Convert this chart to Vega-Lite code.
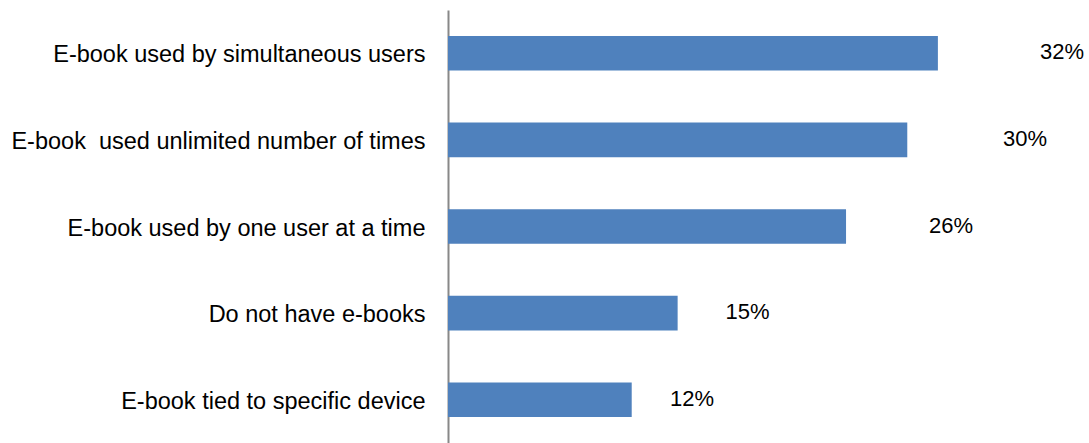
{
  "$schema": "https://vega.github.io/schema/vega-lite/v6.json",
  "autosize": {"type": "none"},
  "padding": {"left": 448, "top": 10, "right": 0, "bottom": 0},
  "width": 641,
  "height": 433,
  "background": "white",
  "config": {"view": {"stroke": null}, "font": "Liberation Sans"},
  "data": {"values": [
    {"category": "E-book used by simultaneous users", "value": 32, "label": "32%"},
    {"category": "E-book\u00a0 used unlimited number of times", "value": 30, "label": "30%"},
    {"category": "E-book used by one user at a time", "value": 26, "label": "26%"},
    {"category": "Do not have e-books", "value": 15, "label": "15%"},
    {"category": "E-book tied to specific device", "value": 12, "label": "12%"}
  ]},
  "encoding": {
    "y": {"field": "category", "type": "nominal", "sort": null,
      "scale": {"paddingInner": 0.6, "paddingOuter": 0.3},
      "axis": {"title": null, "ticks": false, "domain": true, "domainColor": "#888888", "domainWidth": 2,
        "labelFont": "Liberation Sans", "labelFontSize": 23.5, "labelColor": "#000000", "labelPadding": 23, "labelOffset": 2, "labelLimit": 0}}
  },
  "layer": [
    {
      "mark": {"type": "bar", "color": "#4F81BD"},
      "encoding": {
        "x": {"field": "value", "type": "quantitative", "scale": {"domain": [0, 41.87], "nice": false, "zero": true}, "axis": null}
      }
    },
    {
      "mark": {"type": "text", "align": "left", "baseline": "middle", "dy": -1, "font": "Liberation Sans", "fontSize": 22, "color": "#000000"},
      "encoding": {
        "x": {"field": "value", "type": "quantitative", "scale": {"domain": [0, 34.65], "nice": false, "zero": true}, "axis": null},
        "text": {"field": "label"}
      }
    }
  ],
  "resolve": {"scale": {"x": "independent"}}
}
